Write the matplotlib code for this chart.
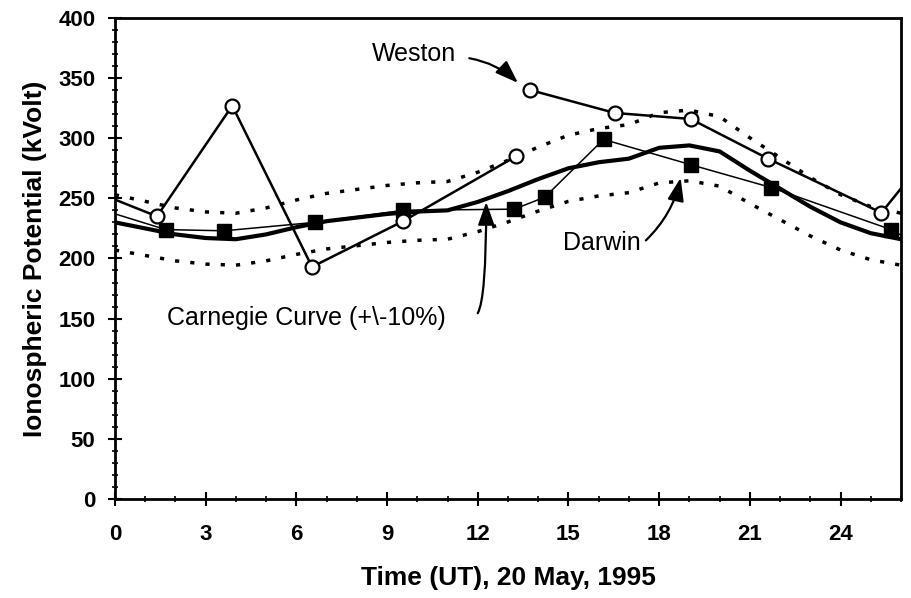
import numpy as np
import matplotlib
matplotlib.use("Agg")
import matplotlib.pyplot as plt
from matplotlib.ticker import MultipleLocator

plt.rcParams['font.family'] = ['Liberation Sans', 'DejaVu Sans']
plt.rcParams['font.weight'] = 'bold'

# Carnegie curve, hourly (kV); dotted band is +/-10 %
carnegie_t = list(range(0, 27))
carnegie_v = [230, 225, 220, 217, 216, 220, 226, 231, 234, 237, 239, 240, 247,
              256, 266, 275, 280, 283, 292, 294, 289, 273, 258, 243, 230, 221, 216]

# Weston (open circles); gap between the two runs, end points lie off the axes
weston_t = [-0.5, 1.39, 3.88, 6.52, 9.53, 13.27, np.nan, 13.74, 16.53, 19.04, 21.6, 25.35, 26.6]
weston_v = [254, 235, 327, 193, 231, 285, np.nan, 340, 321, 316, 283, 238, 277]

# Darwin (filled squares)
darwin_t = [-0.5, 1.68, 3.61, 6.61, 9.53, 13.21, 14.22, 16.16, 19.04, 21.7, 25.67, 26.6]
darwin_v = [241, 224, 223, 230, 240, 241, 251, 299, 278, 259, 224, 211]

carnegie_hi = [v * 1.1 for v in carnegie_v]
carnegie_lo = [v * 0.9 for v in carnegie_v]

fig = plt.figure(figsize=(9.12, 5.98), dpi=100)
ax = fig.add_axes([0.126, 0.1656, 0.862, 0.8044])

dots = (0, (1.2, 3.2))
ax.plot(carnegie_t, carnegie_hi, color='black', lw=2.5, ls=dots, zorder=2)
ax.plot(carnegie_t, carnegie_lo, color='black', lw=2.5, ls=dots, zorder=2)
ax.plot(carnegie_t, carnegie_v, color='black', lw=3, zorder=3)

ax.plot(darwin_t, darwin_v, color='black', lw=1.1, marker='s', ms=9.5,
        mfc='black', mec='black', zorder=4)
ax.plot(weston_t, weston_v, color='black', lw=1.8, marker='o', ms=10,
        mfc='white', mec='black', mew=1.6, zorder=5)

ax.set_xlim(0, 26)
ax.set_ylim(0, 400)
ax.xaxis.set_major_locator(MultipleLocator(3))
ax.xaxis.set_minor_locator(MultipleLocator(1))
ax.yaxis.set_major_locator(MultipleLocator(50))
ax.yaxis.set_minor_locator(MultipleLocator(10))
ax.tick_params(which='major', direction='inout', length=10, width=1.5,
               labelsize=16, pad=9)
ax.tick_params(which='minor', direction='inout', length=5, width=1.2)
ax.tick_params(axis='x', pad=13)
for s in ax.spines.values():
    s.set_linewidth(2)

ax.set_xlabel('Time (UT), 20 May, 1995', fontsize=19, fontweight='bold', labelpad=15)
ax.set_ylabel('Ionospheric Potential (kVolt)', fontsize=19, fontweight='bold', labelpad=8)

arrow = dict(arrowstyle='-|>,head_length=0.7,head_width=0.25', color='black',
             lw=1.6, shrinkA=0, shrinkB=0, mutation_scale=20)

ax.text(9.9, 370, 'Weston', fontsize=18, fontweight='normal', ha='center', va='center')
ax.annotate('', xy=(13.33, 346), xytext=(11.72, 366.5),
            arrowprops=dict(arrow, connectionstyle='arc3,rad=-0.15'))

ax.text(16.1, 213, 'Darwin', fontsize=18, fontweight='normal', ha='center', va='center')
ax.annotate('', xy=(18.71, 267), xytext=(17.56, 215),
            arrowprops=dict(arrow, connectionstyle='arc3,rad=0.15'))

ax.text(6.34, 150.5, 'Carnegie Curve (+\\-10%)', fontsize=18, fontweight='normal',
        ha='center', va='center')
ax.annotate('', xy=(12.28, 247), xytext=(12.0, 154.5),
            arrowprops=dict(arrow, connectionstyle='angle3,angleA=60,angleB=90'))

fig.savefig('out.png', dpi=100)
